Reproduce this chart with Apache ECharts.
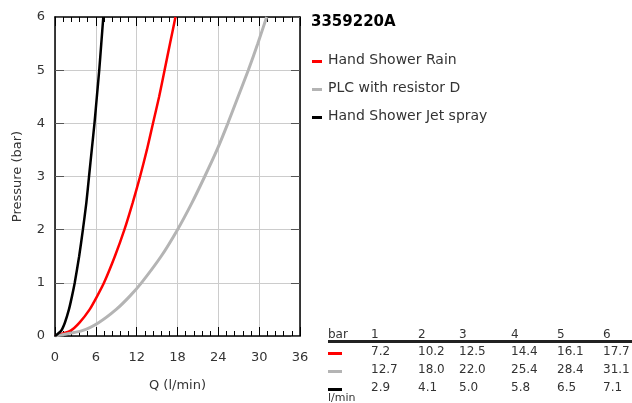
<!DOCTYPE html>
<html>
<head>
<meta charset="utf-8">
<script src="https://cdn.jsdelivr.net/npm/echarts@6/dist/echarts.min.js"></script>
<style>
  html, body { margin: 0; padding: 0; background: #fff; }
  #chart { width: 632px; height: 403px; }
</style>
</head>
<body>
<div id="chart"></div>
<script>
// pressure steps (bar) and flow (l/min) per product, from the table
const pressures = [1, 2, 3, 4, 5, 6];
const rainFlow = [7.2, 10.2, 12.5, 14.4, 16.1, 17.7];
const plcFlow = [12.7, 18.0, 22.0, 25.4, 28.4, 31.1];
const jetFlow = [2.9, 4.1, 5.0, 5.8, 6.5, 7.1];

// points
const curvePressures = [0, 0.1, 0.25, 0.5, 0.75, 1, 1.5, 2, 2.5, 3, 3.5, 4, 4.5, 5, 5.5, 6];
const rainCurve = [0, 2.3, 3.6, 5.1, 6.2, 7.2, 8.8, 10.2, 11.4, 12.5, 13.5, 14.4, 15.3, 16.1, 16.9, 17.7];
const plcCurve = [0, 4.0, 6.4, 9.0, 11.0, 12.7, 15.6, 18.0, 20.1, 22.0, 23.8, 25.4, 26.9, 28.4, 29.8, 31.1];
const jetCurve = [0, 0.9, 1.45, 2.05, 2.5, 2.9, 3.55, 4.1, 4.6, 5.0, 5.4, 5.8, 6.15, 6.5, 6.8, 7.1];

const seriesNames = ['Hand Shower Rain', 'PLC with resistor D', 'Hand Shower Jet spray'];
const seriesColors = ['#ff0000', '#b4b4b4', '#000000'];

const font = 'DejaVu Sans';
const flows = [rainFlow, plcFlow, jetFlow];
const curves = [rainCurve, plcCurve, jetCurve];

const chart = echarts.init(document.getElementById('chart'));

// table on the right below the plot
const colX = [371, 418, 459, 511, 557, 603];
const rowY = [353, 371, 389];
const table = [];
table.push({ type: 'text', left: 328, top: 329, style: { text: 'bar', font: '12px ' + font, fill: '#333' } });
pressures.forEach((p, i) => {
  table.push({ type: 'text', left: colX[i], top: 329, style: { text: String(p), font: '12px ' + font, fill: '#333' } });
});
table.push({ type: 'rect', shape: { x: 328, y: 340, width: 304, height: 3 }, style: { fill: '#222' } });
flows.forEach((q, r) => {
  table.push({ type: 'rect', shape: { x: 328, y: rowY[r] - 1, width: 14, height: 3 }, style: { fill: seriesColors[r] } });
  q.forEach((v, i) => {
    table.push({ type: 'text', left: colX[i], top: rowY[r] - 7, style: { text: v.toFixed(1), font: '12px ' + font, fill: '#333' } });
  });
});
table.push({ type: 'text', left: 328, top: 393, style: { text: 'l/min', font: '11px ' + font, fill: '#333' } });

// legend drawn by hand so it sits like the original
const legend = [];
seriesNames.forEach((n, i) => {
  legend.push({ type: 'rect', shape: { x: 312, y: 60 + i * 28, width: 10, height: 3 }, style: { fill: seriesColors[i] } });
  legend.push({ type: 'text', left: 328, top: 53 + i * 28, style: { text: n, font: '14px ' + font, fill: '#333' } });
});

const tickX = {
  axisLine: { show: true, onZero: false, lineStyle: { color: '#000', width: 1.5 } },
  axisTick: { show: true, inside: true, length: 9, lineStyle: { color: '#000' } },
  minorTick: { show: true, splitNumber: 5, length: 5, lineStyle: { color: '#000' } }
};
const tickY = {
  axisLine: { show: true, onZero: false, lineStyle: { color: '#000', width: 1.5 } },
  axisTick: { show: true, inside: true, length: 9, lineStyle: { color: '#555' } }
};

let option = {
  animation: false,
  title: {
    text: '3359220A',
    left: 306,
    top: 10,
    textStyle: { fontFamily: font, fontSize: 15, fontWeight: 'bold', color: '#000' }
  },
  grid: { left: 55, right: 332, top: 17, bottom: 67 },
  xAxis: [
    Object.assign({
      type: 'value',
      min: 0, max: 36, interval: 6,
      name: 'Q (l/min)',
      nameLocation: 'middle',
      nameGap: 43,
      nameTextStyle: { fontFamily: font, fontSize: 13, color: '#333' },
      axisLabel: { fontFamily: font, fontSize: 13, color: '#333', margin: 15 },
      splitLine: { show: true, lineStyle: { color: '#cccccc' } }
    }, tickX),
    Object.assign({
      type: 'value', position: 'top',
      min: 0, max: 36, interval: 6,
      axisLabel: { show: false },
      splitLine: { show: false }
    }, tickX)
  ],
  yAxis: [
    Object.assign({
      type: 'value',
      min: 0, max: 6, interval: 1,
      name: 'Pressure (bar)',
      nameLocation: 'middle',
      nameGap: 31,
      nameTextStyle: { fontFamily: font, fontSize: 13, color: '#333' },
      axisLabel: { fontFamily: font, fontSize: 13, color: '#333', margin: 10 },
      splitLine: { show: true, lineStyle: { color: '#cccccc' } }
    }, tickY),
    Object.assign({
      type: 'value', position: 'right',
      min: 0, max: 6, interval: 1,
      axisLabel: { show: false },
      splitLine: { show: false }
    }, tickY)
  ],
  series: curves.map((q, i) => ({
    name: seriesNames[i],
    type: 'line',
    data: q.map((v, j) => [v, curvePressures[j]]),
    smooth: 0.2,
    showSymbol: false,
    clip: true,
    lineStyle: { color: seriesColors[i], width: i === 1 ? 3 : 2.5 }
  })),
  graphic: legend.concat(table)
};

chart.setOption(option);
</script>
</body>
</html>
